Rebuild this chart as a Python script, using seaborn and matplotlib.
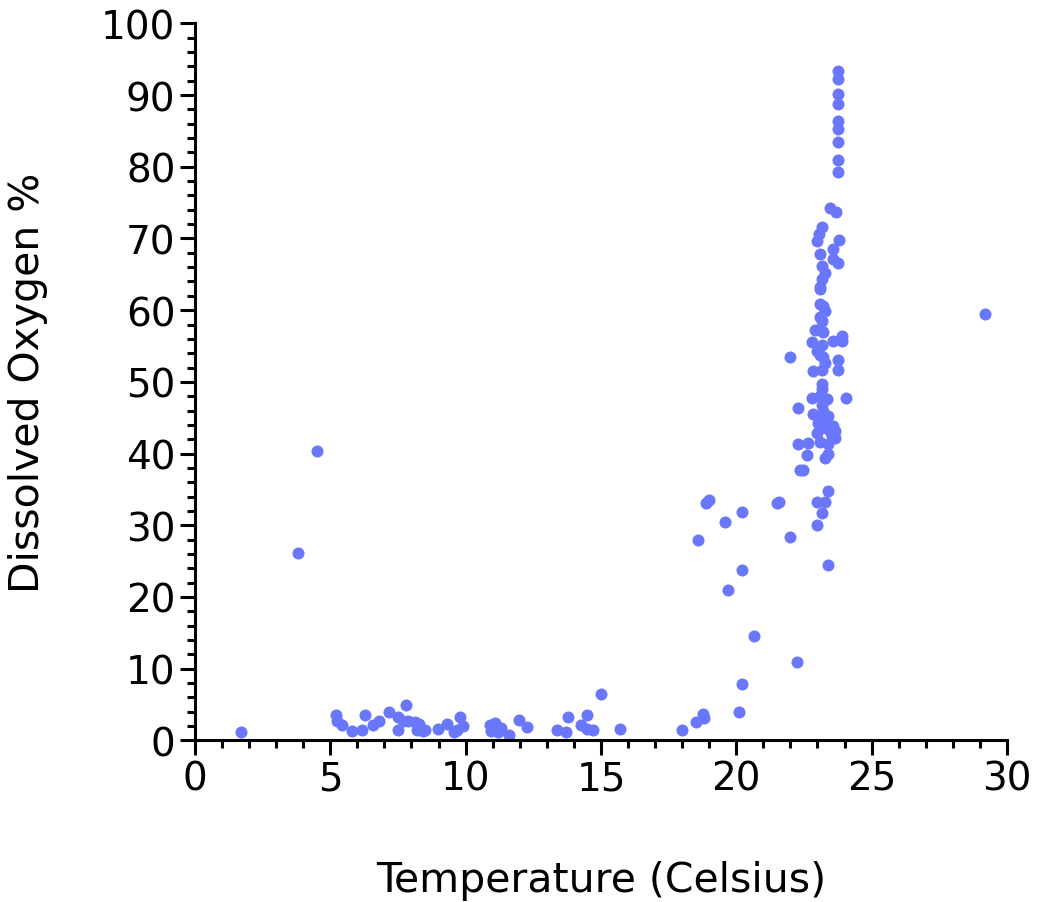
import numpy as np
import pandas as pd
import matplotlib
matplotlib.use("Agg")
import matplotlib.pyplot as plt
import seaborn as sns
from matplotlib.ticker import MultipleLocator

# data
temp_low = [1.7, 3.8, 4.5, 5.20, 5.23, 5.42, 5.79, 6.19, 6.28, 6.59, 6.81, 7.18, 7.49, 7.51,
            7.78, 7.70, 7.88, 8.13, 8.19, 8.26, 8.43, 8.5, 8.99, 9.30, 9.58, 9.79, 9.91, 9.7,
            10.9, 10.95, 11.1, 11.3, 11.2, 11.6, 11.98, 12.28, 13.36, 13.70, 13.79, 14.28,
            14.49, 14.47, 14.72, 14.99, 15.70]
oxy_low = [1.2, 26.1, 40.3, 3.6, 2.7, 2.2, 1.3, 1.4, 3.6, 2.2, 2.7, 3.9, 3.2, 1.5,
           5.0, 2.7, 2.7, 2.5, 1.5, 2.3, 1.3, 1.4, 1.6, 2.3, 1.1, 3.3, 2.0, 1.5,
           2.2, 1.3, 2.4, 1.7, 1.1, 0.7, 2.9, 1.8, 1.5, 1.1, 3.3, 2.2,
           3.6, 1.6, 1.4, 6.4, 1.6]

temp_mid = [17.98, 18.50, 18.78, 18.80, 18.88, 19.0, 18.58, 19.58, 20.20, 20.20, 19.69,
            20.67, 20.20, 20.10, 21.52, 21.58, 21.98, 22.24, 29.2]
oxy_mid = [1.4, 2.6, 3.7, 3.1, 33.1, 33.5, 27.9, 30.4, 31.9, 23.8, 21.0,
           14.5, 7.9, 3.9, 33.1, 33.2, 28.4, 10.9, 59.4]

temp_high = [23.09, 23.09, 23.21, 23.27, 23.09, 23.15, 22.9, 23.15, 23.2, 23.89, 23.89,
             23.58, 22.78, 23.18, 21.98, 22.97, 23.09, 23.21, 23.27, 23.77, 23.77, 22.84,
             23.15, 23.15, 23.15, 22.78, 23.09, 23.34, 24.07, 22.29, 23.15, 23.2, 22.84,
             23.39, 23.03, 23.27, 23.58, 23.64, 22.97, 23.52, 23.64, 22.29, 22.66, 23.09,
             23.39, 22.6, 23.39, 23.27, 22.35, 22.47, 23.39, 22.97, 23.27, 23.18, 22.99,
             23.39, 23.3, 23.1, 23.5]
oxy_high = [62.9, 60.8, 60.6, 59.9, 59.0, 58.5, 57.3, 57.1, 56.9, 56.4, 55.7,
            55.7, 55.5, 55.2, 53.5, 54.3, 53.8, 53.4, 52.7, 53.0, 51.6, 51.5,
            51.7, 49.7, 49.0, 47.8, 48.0, 47.6, 47.7, 46.3, 46.8, 46.0, 45.5,
            45.2, 44.3, 44.1, 43.8, 43.1, 42.9, 42.4, 42.2, 41.3, 41.5, 41.6,
            41.3, 39.8, 40.0, 39.4, 37.7, 37.7, 34.8, 33.2, 33.3, 31.7, 30.0,
            24.4, 43.5, 45.0, 42.8]

temp_top = [23.77, 23.77, 23.77, 23.77, 23.77, 23.77, 23.77, 23.77, 23.77, 23.46, 23.70,
            23.18, 23.06, 22.97, 23.78, 23.58, 23.09, 23.58, 23.77, 23.15, 23.27, 23.15, 23.09]
oxy_top = [93.3, 92.3, 90.2, 88.7, 86.4, 85.2, 83.4, 81.0, 79.3, 74.3, 73.7,
           71.6, 70.6, 69.6, 69.8, 68.5, 67.8, 67.1, 66.6, 66.2, 65.2, 64.3, 63.2]

df = pd.DataFrame({
    "Temperature": temp_low + temp_mid + temp_high + temp_top,
    "Oxygen": oxy_low + oxy_mid + oxy_high + oxy_top,
})

sns.set_style("ticks")
plt.rcParams["font.family"] = ["DejaVu Sans"]
plt.rcParams["text.color"] = "black"
plt.rcParams["axes.labelcolor"] = "black"
plt.rcParams["xtick.color"] = "black"
plt.rcParams["ytick.color"] = "black"

fig = plt.figure(figsize=(10.37, 9.03), dpi=100)
ax = fig.add_axes([0.188, 0.179, 0.783, 0.794])

sns.scatterplot(data=df, x="Temperature", y="Oxygen", color="#6b77fb",
                s=75, linewidth=0, ax=ax)

ax.set_xlim(0, 30)
ax.set_ylim(0, 100)
ax.xaxis.set_major_locator(MultipleLocator(5))
ax.xaxis.set_minor_locator(MultipleLocator(1))
ax.yaxis.set_major_locator(MultipleLocator(10))
ax.yaxis.set_minor_locator(MultipleLocator(2))

for side in ["top", "right"]:
    ax.spines[side].set_visible(False)
for side in ["left", "bottom"]:
    ax.spines[side].set_linewidth(2.2)
    ax.spines[side].set_color("black")

ax.tick_params(which="major", length=11, width=2.2, labelsize=28, colors="black", pad=3)
ax.tick_params(which="minor", length=6, width=2.2, color="black")

ax.set_xlabel("Temperature (Celsius)", fontsize=29.5, labelpad=45)
ax.set_ylabel("Dissolved Oxygen %", fontsize=29.5, labelpad=38)

fig.savefig("out.png", dpi=100)
